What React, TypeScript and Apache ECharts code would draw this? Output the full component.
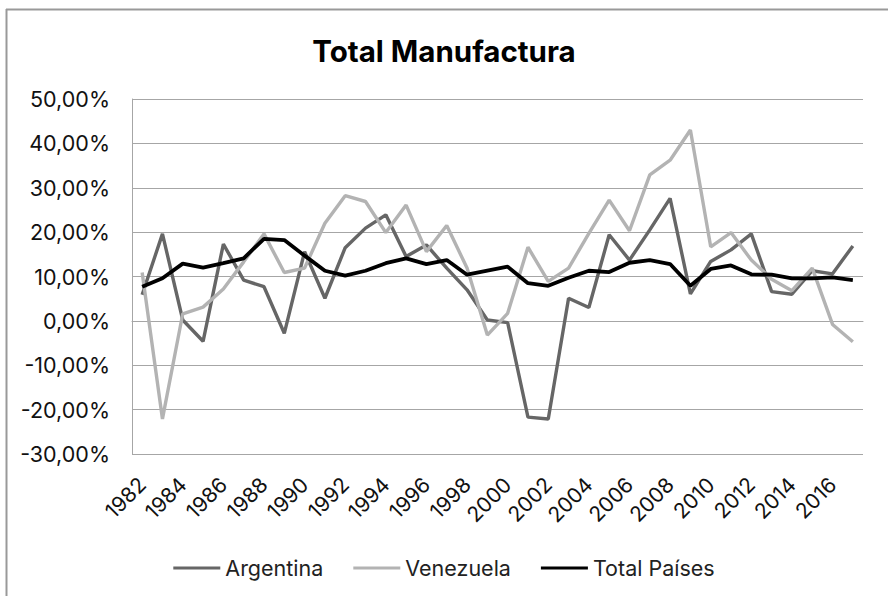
import React, { useEffect, useRef } from "react";
import * as echarts from "echarts";

const years = [
  "1982", "1983", "1984", "1985", "1986", "1987", "1988", "1989", "1990", "1991",
  "1992", "1993", "1994", "1995", "1996", "1997", "1998", "1999", "2000", "2001",
  "2002", "2003", "2004", "2005", "2006", "2007", "2008", "2009", "2010", "2011",
  "2012", "2013", "2014", "2015", "2016", "2017",
];

const argentina = [
  5.9, 19.6, 0.2, -4.6, 17.3, 9.2, 7.7, -2.8, 15.6, 5.1,
  16.5, 20.9, 23.9, 14.5, 17.1, 11.9, 7.0, 0.2, -0.4, -21.7,
  -22.1, 5.1, 3.0, 19.4, 13.7, 20.5, 27.6, 6.1, 13.4, 16.0,
  19.6, 6.6, 6.0, 11.3, 10.6, 16.9,
];

const venezuela = [
  10.9, -22.1, 1.6, 3.1, 7.2, 13.3, 19.6, 10.9, 11.9, 22.0,
  28.2, 26.9, 19.9, 26.1, 15.6, 21.5, 11.9, -3.2, 1.7, 16.6,
  8.9, 11.9, 19.7, 27.2, 20.3, 32.9, 36.2, 43.0, 16.7, 19.9,
  13.7, 9.4, 6.8, 11.9, -0.8, -4.7,
];

const totalPaises = [
  7.7, 9.6, 12.9, 12.0, 13.0, 14.1, 18.5, 18.2, 14.7, 11.3,
  10.2, 11.3, 13.0, 14.1, 12.8, 13.7, 10.4, 11.3, 12.2, 8.5,
  7.9, 9.7, 11.3, 11.0, 13.1, 13.7, 12.8, 7.9, 11.7, 12.5,
  10.5, 10.4, 9.6, 9.6, 9.8, 9.2,
];

const seriesNames = ["Argentina", "Venezuela", "Total Países"];
const seriesColors = ["#666666", "#b3b3b3", "#000000"];
const FONT = "Inter";

export default function App() {
  const ref = useRef<HTMLDivElement>(null);

  useEffect(() => {
    if (!ref.current) return;
    const chart = echarts.init(ref.current, null, { renderer: "svg" });
    const dataSets = [argentina, venezuela, totalPaises];
    chart.setOption({
      animation: false,
      backgroundColor: "#ffffff",
      textStyle: { fontFamily: FONT },
      title: {
        text: "Total Manufactura",
        left: "center",
        top: 31,
        itemGap: 0,
        textStyle: { fontFamily: FONT, fontSize: 29.5, fontWeight: "bold", color: "#000" },
      },
      grid: { left: 132, right: 25, top: 99, bottom: 142 },
      legend: {
        bottom: 12,
        left: "center",
        icon: "rect",
        itemWidth: 47,
        itemHeight: 3,
        itemGap: 30,
        textStyle: { fontFamily: FONT, fontSize: 21.5, color: "#222" },
        data: seriesNames,
      },
      xAxis: {
        type: "category",
        data: years,
        boundaryGap: true,
        axisTick: { show: false },
        axisLine: { show: true, lineStyle: { color: "#a6a6a6", width: 1 } },
        axisLabel: {
          interval: 1,
          rotate: 45,
          margin: 27,
          fontFamily: FONT,
          fontSize: 21,
          color: "#111",
        },
      },
      yAxis: {
        type: "value",
        min: -30,
        max: 50,
        interval: 10,
        axisLine: { show: true, lineStyle: { color: "#a6a6a6", width: 1 } },
        axisTick: { show: false },
        splitLine: { show: true, lineStyle: { color: "#a6a6a6", width: 1 } },
        axisLabel: {
          margin: 22,
          fontFamily: FONT,
          fontSize: 21.5,
          color: "#111",
          formatter: (v: number) => v.toFixed(2).replace(".", ",") + "%",
        },
      },
      graphic: [
        { type: "line", shape: { x1: 6, y1: 9.5, x2: 888, y2: 9.5 }, style: { stroke: "#999", lineWidth: 2 } },
        { type: "line", shape: { x1: 6.5, y1: 9, x2: 6.5, y2: 596 }, style: { stroke: "#999", lineWidth: 2 } },
      ],
      series: seriesNames.map((name, i) => ({
        name,
        type: "line",
        data: dataSets[i],
        symbol: "none",
        color: seriesColors[i],
        lineStyle: { color: seriesColors[i], width: i === 2 ? 3.8 : 3.4 },
        z: 2 + i,
      })),
    });
    return () => chart.dispose();
  }, []);

  return (
    <div
      ref={ref}
      style={{ position: "absolute", left: 0, top: 0, width: 888, height: 596, background: "#fff" }}
    />
  );
}
